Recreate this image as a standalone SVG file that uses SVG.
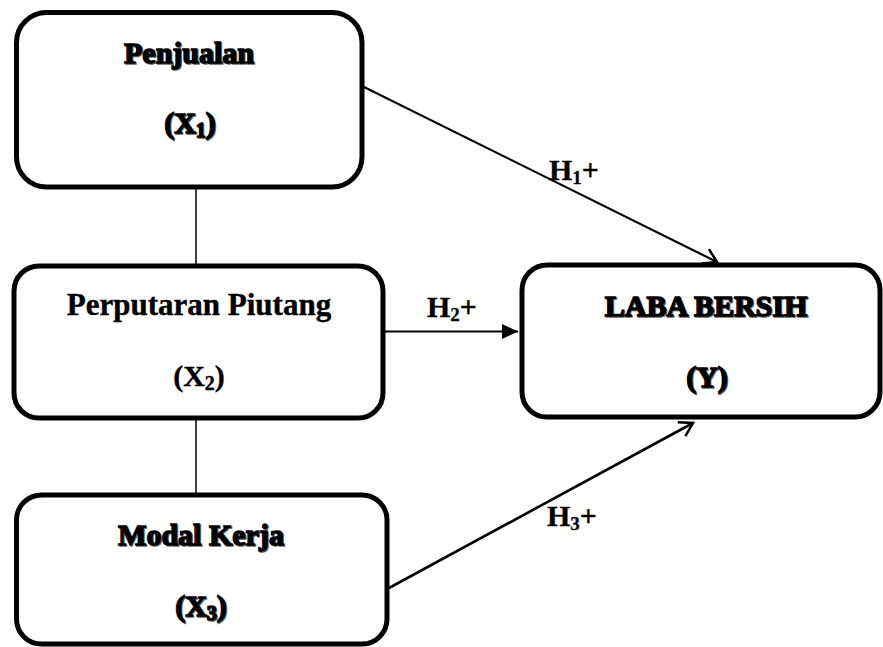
<svg xmlns="http://www.w3.org/2000/svg" width="883" height="647" viewBox="0 0 883 647">
<style>
.box{fill:#fff;stroke:#000;stroke-width:5}
.t{font-family:"Liberation Serif","Times New Roman",serif;font-weight:bold;text-anchor:middle;fill:#000}
.plain{stroke:#000;stroke-width:0.4}
.heavy{stroke:#000;stroke-width:1.4}
.sh{fill:#666;stroke:#666;stroke-width:1.4}
.lbl{font-family:"Liberation Serif","Times New Roman",serif;font-weight:bold;font-size:30px;fill:#000;stroke:#000;stroke-width:0.3}
.ln{stroke:#000;fill:none}
</style>
<defs>
<marker id="open" markerWidth="20" markerHeight="20" refX="16" refY="10" orient="auto" markerUnits="userSpaceOnUse">
<path d="M3,2 L16,10 L3,18" fill="none" stroke="#000" stroke-width="2.5"/>
</marker>
<marker id="fill" markerWidth="20" markerHeight="20" refX="16" refY="10" orient="auto" markerUnits="userSpaceOnUse">
<path d="M0,2.5 L16,10 L0,17.5 Z" fill="#000"/>
</marker>
</defs>
<g id="connectors">
<line class="ln" x1="196" y1="189" x2="196" y2="264" stroke-width="1.5"/>
<line class="ln" x1="196" y1="420" x2="196" y2="493" stroke-width="1.5"/>
<line class="ln" x1="364" y1="87" x2="717" y2="262" stroke-width="2.2" marker-end="url(#open)"/>
<line class="ln" x1="385" y1="331.5" x2="518" y2="331.5" stroke-width="2.2" marker-end="url(#fill)"/>
<line class="ln" x1="389" y1="588" x2="693" y2="423" stroke-width="2.6" marker-end="url(#open)"/>
<text class="lbl" x="549" y="180">H<tspan font-size="19" dy="4">1</tspan><tspan dy="-4">+</tspan></text>
<text class="lbl" x="427" y="317">H<tspan font-size="19" dy="4">2</tspan><tspan dy="-4">+</tspan></text>
<text class="lbl" x="547" y="526">H<tspan font-size="19" dy="4">3</tspan><tspan dy="-4">+</tspan></text>
</g>
<g id="penjualan">
<rect class="box" x="16.5" y="12.5" width="345.5" height="174.5" rx="30"/>
<text class="t sh" x="190" y="64" font-size="30">Penjualan</text>
<text class="t heavy" x="189" y="63" font-size="30">Penjualan</text>
<text class="t sh" x="191" y="134" font-size="30">(X<tspan font-size="20" dy="4">1</tspan><tspan dy="-4">)</tspan></text>
<text class="t heavy" x="190" y="133" font-size="30">(X<tspan font-size="20" dy="4">1</tspan><tspan dy="-4">)</tspan></text>
</g>
<g id="perputaran">
<rect class="box" x="14" y="266" width="369" height="152" rx="25"/>
<text class="t plain" x="199" y="315" font-size="31">Perputaran Piutang</text>
<text class="t plain" x="199" y="386" font-size="30">(X<tspan font-size="20" dy="4">2</tspan><tspan dy="-4">)</tspan></text>
</g>
<g id="modal">
<rect class="box" x="16.5" y="495" width="370.5" height="149" rx="25"/>
<text class="t sh" x="202" y="546" font-size="30">Modal Kerja</text>
<text class="t heavy" x="201" y="545" font-size="30">Modal Kerja</text>
<text class="t sh" x="202" y="617" font-size="30">(X<tspan font-size="20" dy="4">3</tspan><tspan dy="-4">)</tspan></text>
<text class="t heavy" x="201" y="616" font-size="30">(X<tspan font-size="20" dy="4">3</tspan><tspan dy="-4">)</tspan></text>
</g>
<g id="laba">
<rect class="box" x="522" y="265" width="358" height="152" rx="25"/>
<text class="t sh" x="707" y="317" font-size="30">LABA BERSIH</text>
<text class="t heavy" x="706" y="316" font-size="30">LABA BERSIH</text>
<text class="t sh" x="708" y="388" font-size="30">(Y)</text>
<text class="t heavy" x="707" y="387" font-size="30">(Y)</text>
</g>
</svg>
